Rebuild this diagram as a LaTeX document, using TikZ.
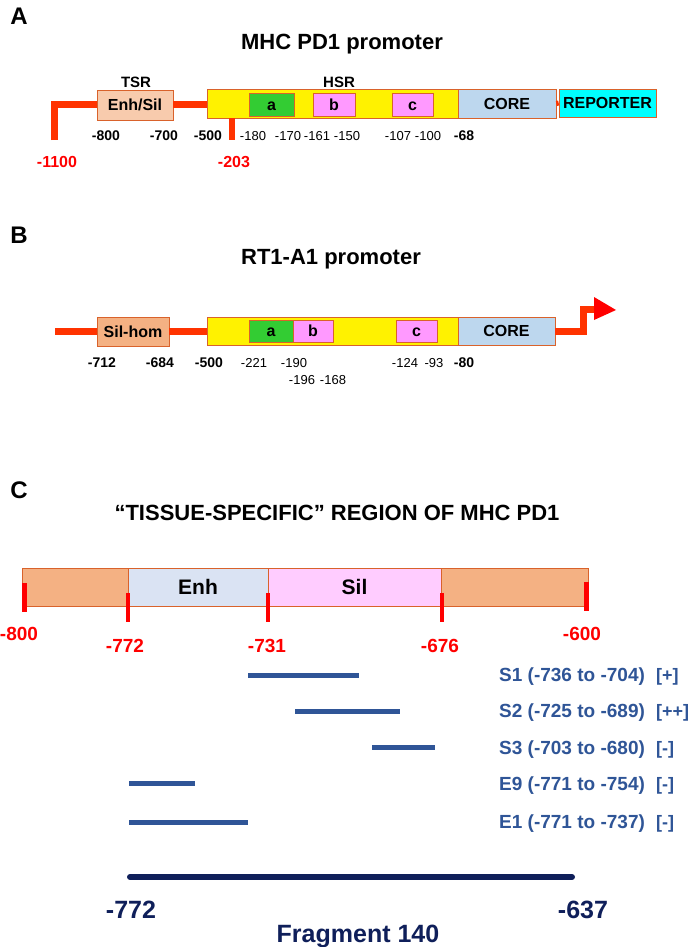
\documentclass[tikz,border=0pt]{standalone}
\usepackage{fontspec}
\setmainfont{Liberation Sans}
\newcommand\myfs[1]{\fontsize{#1}{#1}\selectfont}
\definecolor{edge}{HTML}{D9622B}
\definecolor{linered}{HTML}{FF3300}
\definecolor{salmonlt}{HTML}{F8CBAD}
\definecolor{salmon}{HTML}{F4B183}
\definecolor{boxgreen}{HTML}{33CC33}
\definecolor{boxpink}{HTML}{FF99FF}
\definecolor{coreblue}{HTML}{BDD7EE}
\definecolor{repcyan}{HTML}{00FFFF}
\definecolor{enhblue}{HTML}{DAE3F3}
\definecolor{silpink}{HTML}{FFCCFF}
\definecolor{fragblue}{HTML}{2F5597}
\definecolor{navy}{HTML}{0F1F5A}
\begin{document}
\begin{tikzpicture}[x=1pt,y=-1pt,
  box/.style={draw=edge, line width=0.7pt, inner sep=0pt, text height=11.5pt, text depth=0pt, font=\bfseries\myfs{16}},
  seg/.style={draw=edge, line width=0.7pt, inner sep=0pt, minimum height=38pt, text height=15pt, text depth=0pt, font=\bfseries\myfs{21}},
  lbl/.style={inner sep=0pt, anchor=base, font=\bfseries\myfs{14}},
  sm/.style={inner sep=0pt, anchor=base, font=\myfs{13}},
  rl/.style={inner sep=0pt, anchor=base, text=red, font=\bfseries\myfs{16}},
  crl/.style={inner sep=0pt, anchor=base, text=red, font=\bfseries\myfs{19}},
  panel/.style={inner sep=0pt, anchor=base, font=\bfseries\myfs{24}},
  ttl/.style={inner sep=0pt, anchor=base, font=\bfseries\myfs{22}},
  redline/.style={draw=linered, line width=7pt, line join=miter},
  ctick/.style={draw=red, line width=4pt},
  frag/.style={draw=fragblue, line width=5pt},
  ftxt/.style={inner sep=0pt, anchor=base west, text=fragblue, font=\bfseries\myfs{19}},
  brtxt/.style={inner sep=0pt, anchor=base west, text=fragblue, font=\bfseries\myfs{18}},
  btxt/.style={inner sep=0pt, anchor=base, text=navy, font=\bfseries\myfs{25}}]
\useasboundingbox[fill=white] (0,0) rectangle (692,947);

% ---------------- Panel A ----------------
\node[panel] (pA) at (19,25) {A};
\node[ttl] (tA) at (342,50) {MHC PD1 promoter};
\node[inner sep=0pt, anchor=base, font=\bfseries\myfs{15}] (tsr) at (136,88) {TSR};
\node[inner sep=0pt, anchor=base, font=\bfseries\myfs{15}] (hsrl) at (339,88) {HSR};

\node[box, fill=salmonlt, minimum width=76pt, minimum height=30pt] (ensil) at (135,105) {Enh/Sil};
\node[box, fill=yellow, minimum width=251pt, minimum height=29pt] (hsr) at (332.5,103.5) {};
\node[box, fill=boxgreen, minimum width=45pt, minimum height=23pt] (boxa) at (271.5,104.5) {a};
\node[box, fill=boxpink, minimum width=42pt, minimum height=23pt] (boxb) at (334,104.5) {b};
\node[box, fill=boxpink, minimum width=41pt, minimum height=23pt] (boxc) at (412.5,104.5) {c};
\node[box, fill=coreblue, minimum width=98pt, minimum height=29pt] (core) at (507,103.5) {CORE};
\node[box, fill=repcyan, minimum width=97pt, minimum height=28pt] (rep) at (607.5,103) {REPORTER};

\coordinate (p1100) at (54,140);
\draw[redline] (p1100) |- (ensil.west);
\draw[redline] (ensil.east) -- (ensil.east -| hsr.west);
\coordinate (p203) at (232,140);
\draw[redline, line width=6pt] (hsr.south -| p203) -- (p203);
\draw[redline, line width=5pt] (core.east) -- (rep.west);

\node[lbl] (a800) at (106,140) {-800};
\node[lbl] (a700) at (164,140) {-700};
\node[lbl] (a500) at (208,140) {-500};
\node[sm] (a180) at (253,140) {-180};
\node[sm] (a170) at (288,140) {-170};
\node[sm] (a161) at (317,140) {-161};
\node[sm] (a150) at (347,140) {-150};
\node[sm] (a107) at (398,140) {-107};
\node[sm] (a100) at (428,140) {-100};
\node[lbl] (a68) at (464,140) {-68};
\node[rl] (a1100) at (57,167) {-1100};
\node[rl] (a203) at (234,167) {-203};

% ---------------- Panel B ----------------
\node[panel] (pB) at (19,243) {B};
\node[ttl] (tB) at (331,264) {RT1-A1 promoter};

\node[box, fill=salmon, minimum width=72pt, minimum height=29pt] (silhom) at (133,331.5) {Sil-hom};
\node[box, fill=yellow, minimum width=251pt, minimum height=28pt] (hsrB) at (332.5,331) {};
\node[box, fill=boxgreen, minimum width=44pt, minimum height=22pt] (aB) at (271,331) {a};
\node[box, fill=boxpink, minimum width=40pt, minimum height=22pt] (bB) at (313,331) {b};
\node[box, fill=boxpink, minimum width=41pt, minimum height=22pt] (cB) at (416.5,331) {c};
\node[box, fill=coreblue, minimum width=97pt, minimum height=28pt] (coreB) at (506.5,331) {CORE};

\coordinate (bstart) at (55,331);
\draw[redline] (bstart) -- (bstart -| silhom.west);
\draw[redline] (silhom.east) -- (silhom.east -| hsrB.west);
\coordinate (bend) at (583,309);
\coordinate (abase) at (594,309);
\coordinate (atip) at (616,310);
\draw[redline] (coreB.east) -| (bend) -- (abase);
\fill[red] ([yshift=-11pt]abase) -- (atip) -- ([yshift=12pt]abase) -- cycle;

\node[lbl] (b712) at (102,367) {-712};
\node[lbl] (b684) at (160,367) {-684};
\node[lbl] (b500) at (209,367) {-500};
\node[sm] (b221) at (254,367) {-221};
\node[sm] (b190) at (294,367) {-190};
\node[sm] (b196) at (302,384) {-196};
\node[sm] (b168) at (333,384) {-168};
\node[sm] (b124) at (405,367) {-124};
\node[sm] (b93) at (434,367) {-93};
\node[lbl] (b80) at (464,367) {-80};

% ---------------- Panel C ----------------
\node[panel] (pC) at (19,498) {C};
\node[ttl] (tC) at (337,520) {“TISSUE-SPECIFIC” REGION OF MHC PD1};

\node[seg, fill=salmon, minimum width=106pt] (c0) at (75,587) {};
\node[seg, fill=enhblue, minimum width=140pt] (cenh) at (198,587) {Enh};
\node[seg, fill=silpink, minimum width=173pt] (csil) at (354.5,587) {Sil};
\node[seg, fill=salmon, minimum width=147pt] (c3) at (514.5,587) {};

\coordinate (k800a) at (24.5,583);  \coordinate (k800b) at (24.5,612);
\coordinate (k772a) at (127.5,593); \coordinate (k772b) at (127.5,622);
\coordinate (k731a) at (267.5,593); \coordinate (k731b) at (267.5,622);
\coordinate (k676a) at (442,593);   \coordinate (k676b) at (442,622);
\coordinate (k600a) at (586.5,582); \coordinate (k600b) at (586.5,611);
\draw[ctick, line width=5pt] (k800a) -- (k800b);
\draw[ctick] (k772a) -- (k772b);
\draw[ctick] (k731a) -- (k731b);
\draw[ctick] (k676a) -- (k676b);
\draw[ctick, line width=5pt] (k600a) -- (k600b);

\node[crl] (c800) at (19,640) {-800};
\node[crl] (c772) at (125,652) {-772};
\node[crl] (c731) at (267,652) {-731};
\node[crl] (c676) at (440,652) {-676};
\node[crl] (c600) at (582,640) {-600};

\coordinate (s1a) at (248,675);  \coordinate (s1b) at (359,675);
\coordinate (s2a) at (295,711);  \coordinate (s2b) at (400,711);
\coordinate (s3a) at (372,747);  \coordinate (s3b) at (435,747);
\coordinate (e9a) at (129,783);  \coordinate (e9b) at (195,783);
\coordinate (e1a) at (129,822);  \coordinate (e1b) at (248,822);
\draw[frag] (s1a) -- (s1b);
\draw[frag] (s2a) -- (s2b);
\draw[frag] (s3a) -- (s3b);
\draw[frag] (e9a) -- (e9b);
\draw[frag] (e1a) -- (e1b);

\node[ftxt] (ts1) at (499,681) {S1 (-736 to -704)};
\node[ftxt] (ts2) at (499,717) {S2 (-725 to -689)};
\node[ftxt] (ts3) at (499,754) {S3 (-703 to -680)};
\node[ftxt] (te9) at (499,790) {E9 (-771 to -754)};
\node[ftxt] (te1) at (499,828) {E1 (-771 to -737)};
\node[brtxt] (rs1) at (656,681) {[+]};
\node[brtxt] (rs2) at (656,717) {[++]};
\node[brtxt] (rs3) at (656,754) {[-]};
\node[brtxt] (re9) at (656,790) {[-]};
\node[brtxt] (re1) at (656,828) {[-]};

\coordinate (fa) at (130,877);
\coordinate (fb) at (572,877);
\draw[draw=navy, line width=6pt, line cap=round] (fa) -- (fb);
\node[btxt] (f772) at (131,918) {-772};
\node[btxt] (f637) at (583,918) {-637};
\node[btxt] (fname) at (358,942) {Fragment 140};
\end{tikzpicture}
\end{document}
